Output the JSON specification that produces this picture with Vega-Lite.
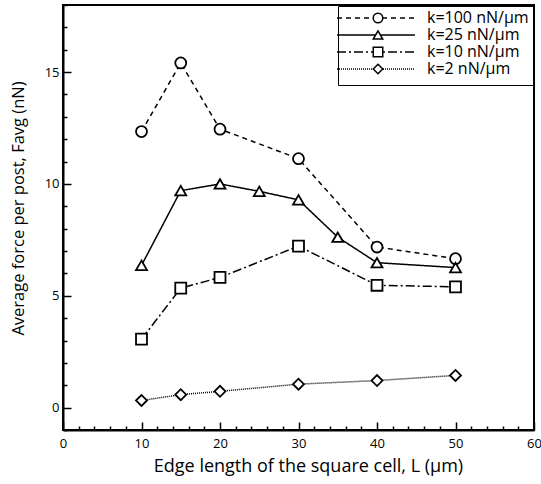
{
  "$schema": "https://vega.github.io/schema/vega-lite/v6.json",
  "width": 471,
  "height": 425,
  "autosize": "none",
  "padding": {"left": 63, "top": 5, "right": 7, "bottom": 54},
  "background": "white",
  "config": {"view": {"stroke": "black", "strokeWidth": 2}, "font": "Open Sans"},
  "data": {"values": [
    {"k": "k=100 nN/µm", "L": 10, "F": 12.34},
    {"k": "k=100 nN/µm", "L": 15, "F": 15.41},
    {"k": "k=100 nN/µm", "L": 20, "F": 12.45},
    {"k": "k=100 nN/µm", "L": 30, "F": 11.13},
    {"k": "k=100 nN/µm", "L": 40, "F": 7.18},
    {"k": "k=100 nN/µm", "L": 50, "F": 6.66},
    {"k": "k=25 nN/µm", "L": 10, "F": 6.36},
    {"k": "k=25 nN/µm", "L": 15, "F": 9.7},
    {"k": "k=25 nN/µm", "L": 20, "F": 10.0},
    {"k": "k=25 nN/µm", "L": 25, "F": 9.67},
    {"k": "k=25 nN/µm", "L": 30, "F": 9.29},
    {"k": "k=25 nN/µm", "L": 35, "F": 7.62},
    {"k": "k=25 nN/µm", "L": 40, "F": 6.48},
    {"k": "k=25 nN/µm", "L": 50, "F": 6.26},
    {"k": "k=10 nN/µm", "L": 10, "F": 3.06},
    {"k": "k=10 nN/µm", "L": 15, "F": 5.34},
    {"k": "k=10 nN/µm", "L": 20, "F": 5.82},
    {"k": "k=10 nN/µm", "L": 30, "F": 7.22},
    {"k": "k=10 nN/µm", "L": 40, "F": 5.47},
    {"k": "k=10 nN/µm", "L": 50, "F": 5.4},
    {"k": "k=2 nN/µm", "L": 10, "F": 0.32},
    {"k": "k=2 nN/µm", "L": 15, "F": 0.58},
    {"k": "k=2 nN/µm", "L": 20, "F": 0.73},
    {"k": "k=2 nN/µm", "L": 30, "F": 1.05},
    {"k": "k=2 nN/µm", "L": 40, "F": 1.21},
    {"k": "k=2 nN/µm", "L": 50, "F": 1.44}
  ]},
  "encoding": {
    "x": {
      "field": "L", "type": "quantitative",
      "scale": {"domain": [0, 60], "nice": false},
      "axis": {
        "title": "Edge length of the square cell, L  (µm)",
        "values": [0,2,4,6,8,10,12,14,16,18,20,22,24,26,28,30,32,34,36,38,40,42,44,46,48,50,52,54,56,58,60],
        "labelExpr": "datum.value % 10 === 0 ? datum.label : ''",
        "labelOverlap": false,
        "labelFlush": false,
        "tickSize": {"condition": {"test": "datum.value % 10 === 0", "value": -8}, "value": -4},
        "tickColor": "black", "tickWidth": 1.5,
        "domainColor": "black", "domainWidth": 2,
        "labelFontSize": 13, "labelColor": "black", "labelPadding": 15,
        "titleFontSize": 18, "titleFontWeight": "normal", "titleColor": "black", "titlePadding": 3,
        "titleX": 245,
        "grid": false
      }
    },
    "y": {
      "field": "F", "type": "quantitative",
      "scale": {"domain": [-1, 18], "nice": false, "zero": false},
      "axis": {
        "title": "Average force per post, Favg (nN)",
        "values": [-1,0,1,2,3,4,5,6,7,8,9,10,11,12,13,14,15,16,17,18],
        "labelExpr": "datum.value % 5 === 0 ? datum.label : ''",
        "labelOverlap": false,
        "labelFlush": false,
        "tickSize": {"condition": {"test": "datum.value % 5 === 0", "value": -8}, "value": -4},
        "tickColor": "black", "tickWidth": 1.5,
        "domainColor": "black", "domainWidth": 2,
        "labelFontSize": 13, "labelColor": "black", "labelPadding": 12,
        "titleFontSize": 16.5, "titleFontWeight": "normal", "titleColor": "black", "titlePadding": 18,
        "titleY": 203,
        "grid": false
      }
    }
  },
  "layer": [
    {
      "mark": {"type": "line", "color": "black", "strokeWidth": 1.5},
      "encoding": {
        "strokeDash": {
          "field": "k", "type": "nominal",
          "scale": {"domain": ["k=100 nN/µm", "k=25 nN/µm", "k=10 nN/µm", "k=2 nN/µm"], "range": [[5, 4], [1, 0], [9, 3, 2, 3], [1, 1]]},
          "legend": {
            "orient": "top-right", "offset": 1,
            "title": " ", "titleOrient": "bottom", "titleFontSize": 3, "titlePadding": 1,
            "symbolType": "M-2.6,0H13", "symbolSize": 100, "symbolStrokeWidth": 1.5, "symbolStrokeColor": "black",
            "labelOffset": 69, "labelFontSize": 16, "labelColor": "black",
            "padding": 4, "rowPadding": 1, "strokeColor": "black"
          }
        }
      }
    },
    {
      "mark": {"type": "point", "filled": true, "fill": "white", "stroke": "black", "strokeWidth": 1.8, "size": 120, "opacity": 1},
      "encoding": {
        "shape": {
          "field": "k", "type": "nominal",
          "scale": {"domain": ["k=100 nN/µm", "k=25 nN/µm", "k=10 nN/µm", "k=2 nN/µm"], "range": ["circle", "triangle-up", "square", "diamond"]},
          "legend": {
            "orient": "none", "legendX": 303, "legendY": 1, "title": null,
            "symbolSize": 90,
            "labelExpr": "''", "labelFontSize": 16,
            "padding": 4, "rowPadding": 1,
            "encode": {"symbols": {"update": {"stroke": {"value": "black"}, "fill": {"value": "white"}, "strokeWidth": {"value": 1.8}, "opacity": {"value": 1}}}}
          }
        }
      }
    }
  ]
}
